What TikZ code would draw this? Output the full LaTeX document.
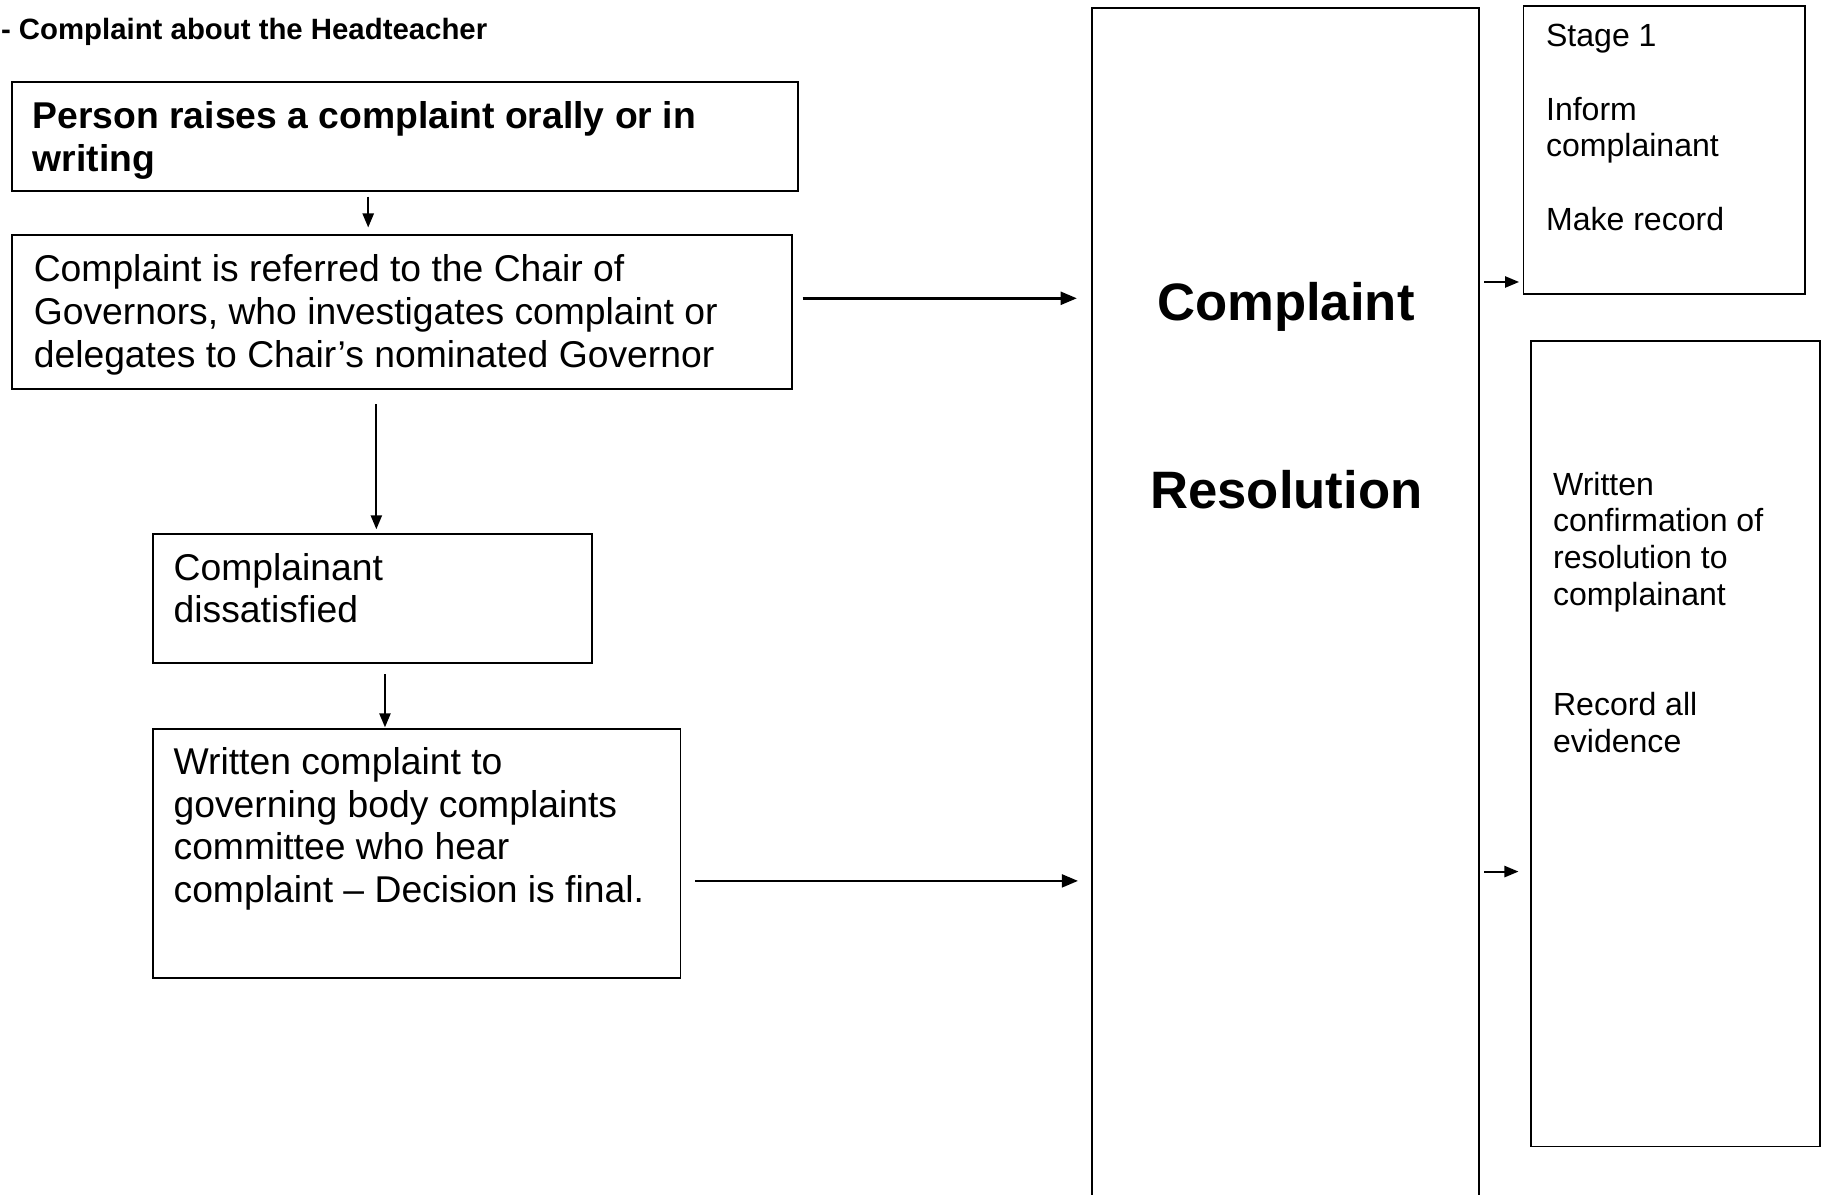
\documentclass[tikz,border=0pt]{standalone}
\usepackage{fontspec}
\setmainfont{Liberation Sans}
\usetikzlibrary{arrows.meta,calc,fit}
% top-aligned block of left-aligned lines; its baseline is the first line's
\newcommand{\linesblock}[1]{\begin{tabular}[t]{@{}l@{}}#1\end{tabular}}

\begin{document}
\begin{tikzpicture}[x=0.5pt,y=-0.5pt,
  frame/.style={draw=black, line width=0.8pt, inner sep=0pt, rectangle},
  body/.style={font=\fontsize{16pt}{18.25pt}\selectfont, anchor=base west, inner sep=0pt},
  bodybold/.style={font=\fontsize{16pt}{18.5pt}\selectfont\bfseries, anchor=base west, inner sep=0pt},
  side/.style={font=\fontsize{13.75pt}{15.75pt}\selectfont, anchor=base west, inner sep=0pt},
  headline/.style={font=\fontsize{22.6pt}{26pt}\selectfont\bfseries, anchor=base, inner sep=0pt},
  flow/.style={-{Triangle[length=6pt,width=4.8pt]}, line width=0.8pt},
  feed/.style={-{Triangle[length=7pt,width=5.5pt]}, line width=1.2pt},
]
\useasboundingbox (0,0) rectangle (1568,1025);

% heading
\node[font=\fontsize{12.6pt}{15pt}\selectfont\bfseries, anchor=base west, inner sep=0pt]
  (title) at (0.5,33.6) {- Complaint about the Headteacher};

% left-hand flow
\node[frame, fit={(10,70) (685,164)}] (b1) {};
\node[bodybold] (t1) at (27.7,110.5) {\linesblock{Person raises a complaint orally or in\\writing}};

\node[frame, fit={(10,202) (680,334)}] (b2) {};
\node[body] (t2) at (28.6,242) {\linesblock{Complaint is referred to the Chair of\\Governors, who investigates complaint or\\delegates to Chair’s nominated Governor}};

\node[frame, fit={(131.5,458) (508,569)}] (b3) {};
\node[body] (t3) at (148.6,498) {\linesblock{Complainant\\dissatisfied}};

\node[frame, fit={(131,626) (584,839)}] (b4) {};
\node[body] (t4) at (148.6,665) {\linesblock{Written complaint to\\governing body complaints\\committee who hear\\complaint – Decision is final.}};

% central column, open at the foot of the page
\node[frame, line width=0.75pt, fit={(937,7) (1269,1045)}] (big) {};
\node[headline] (h1) at (1103.5,275) {Complaint};
\node[headline] (h2) at (1104,436) {Resolution};

% right-hand outcomes
\node[frame, fit={(1307.5,5) (1549,252)}] (b5) {};
\node[side] (t5) at (1326.5,40) {\linesblock{Stage 1\\[15.75pt]Inform\\complainant\\[15.75pt]Make record}};

\node[frame, fit={(1314,292.5) (1562,984)}] (b6) {};
\node[side] (t6) at (1332.5,425) {\linesblock{Written\\confirmation of\\resolution to\\complainant\\[31.5pt]Record all\\evidence}};

% guide positions for the connectors
\coordinate (c1) at (316,0);
\coordinate (c2) at (323,0);
\coordinate (c3) at (330.4,0);
\coordinate (r1) at (0,256);
\coordinate (r2) at (0,756);
\coordinate (r3) at (0,242);
\coordinate (r4) at (0,748);

% connectors
\draw[flow, shorten <=2pt, shorten >=3pt] (b1.south -| c1) -- (b2.north -| c1);
\draw[flow, shorten <=6pt, shorten >=1.5pt] (b2.south -| c2) -- (b3.north -| c2);
\draw[flow, shorten <=4.5pt, shorten >=0.5pt] (b3.south -| c3) -- (b4.north -| c3);
\draw[feed, shorten <=4pt, shorten >=6pt] (b2.east |- r1) -- (big.west |- r1);
\draw[feed, shorten <=6pt, shorten >=5.5pt] (b4.east |- r2) -- (big.west |- r2);
\draw[flow, shorten <=2pt, shorten >=1.5pt] (big.east |- r3) -- (b5.west |- r3);
\draw[flow, shorten <=2pt, shorten >=5pt] (big.east |- r4) -- (b6.west |- r4);
\end{tikzpicture}
\end{document}
